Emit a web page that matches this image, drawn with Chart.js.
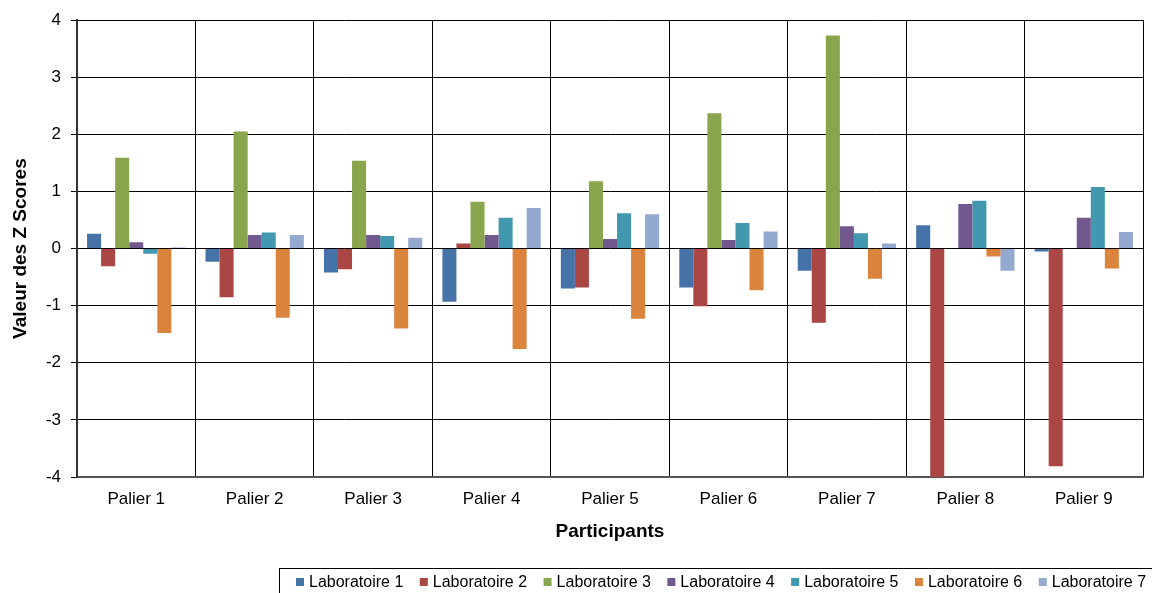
<!DOCTYPE html>
<html>
<head>
<meta charset="utf-8">
<title>Z Scores</title>
<script src="https://cdn.jsdelivr.net/npm/chart.js@4/dist/chart.umd.min.js"></script>
<style>
  html, body { margin: 0; padding: 0; background: #fff; }
  #zone { width: 1152px; height: 593px; }
</style>
</head>
<body>
<div id="zone"><canvas id="graphique" width="1152" height="593"></canvas></div>
<script>
const paliers = ['Palier 1', 'Palier 2', 'Palier 3', 'Palier 4', 'Palier 5', 'Palier 6', 'Palier 7', 'Palier 8', 'Palier 9'];
const laboratoires = ['Laboratoire 1', 'Laboratoire 2', 'Laboratoire 3', 'Laboratoire 4', 'Laboratoire 5', 'Laboratoire 6', 'Laboratoire 7'];
const couleurs = ['#4572a7', '#aa4643', '#89a54e', '#71588f', '#4198af', '#db843d', '#93a9cf'];

const labo1 = [0.26, -0.23, -0.42, -0.93, -0.70, -0.68, -0.39, 0.41, -0.05];
const labo2 = [-0.31, -0.85, -0.36, 0.09, -0.68, -1.01, -1.30, -4.03, -3.81];
const labo3 = [1.59, 2.05, 1.54, 0.82, 1.18, 2.37, 3.73, null, null];
const labo4 = [0.11, 0.24, 0.24, 0.24, 0.17, 0.15, 0.39, 0.78, 0.54];
const labo5 = [-0.09, 0.28, 0.22, 0.54, 0.62, 0.45, 0.27, 0.84, 1.08];
const labo6 = [-1.48, -1.21, -1.40, -1.76, -1.23, -0.73, -0.53, -0.14, -0.35];
const labo7 = [0.02, 0.24, 0.19, 0.71, 0.60, 0.30, 0.09, -0.39, 0.29];

const series = [labo1, labo2, labo3, labo4, labo5, labo6, labo7];
const ticksY = [-4, -3, -2, -1, 0, 1, 2, 3, 4];

const police = "'Liberation Sans', Arial, sans-serif";

// legende dans un cadre, en bas a droite
const legendeCadre = {
  id: 'legendeCadre',
  afterDraw(chart) {
    const ctx = chart.ctx;
    ctx.save();
    ctx.strokeStyle = '#000';
    ctx.lineWidth = 1;
    ctx.strokeRect(279.5, 568.5, 900, 60);
    ctx.font = '16px ' + police;
    ctx.textBaseline = 'middle';
    let x = 296;
    const y = 582;
    chart.data.datasets.forEach(ds => {
      ctx.fillStyle = ds.backgroundColor;
      ctx.fillRect(x, y - 4, 8, 8);
      ctx.fillStyle = '#000';
      ctx.fillText(ds.label, x + 13, y + 1);
      x += 13 + ctx.measureText(ds.label).width + 16.5;
    });
    ctx.restore();
  }
};

const ctx = document.getElementById('graphique').getContext('2d');
new Chart(ctx, {
  type: 'bar',
  data: {
    labels: paliers,
    datasets: series.map((valeurs, i) => ({
      label: laboratoires[i],
      data: valeurs,
      backgroundColor: couleurs[i],
      borderWidth: 0,
      categoryPercentage: 0.83,
      barPercentage: 1.0
    }))
  },
  options: {
    responsive: false,
    animation: false,
    devicePixelRatio: 1,
    layout: { padding: { top: 20, right: 9, bottom: 26, left: 0 } },
    plugins: {
      legend: { display: false },
      tooltip: { enabled: false }
    },
    scales: {
      x: {
        grid: { color: '#000', lineWidth: 1, drawTicks: false, offset: true },
        border: { display: true, color: '#555', width: 2 },
        ticks: { color: '#000', font: { family: police, size: 17 }, padding: 12 },
        title: {
          display: true,
          text: 'Participants',
          color: '#000',
          font: { family: police, size: 19, weight: 'bold' },
          padding: { top: 0, bottom: 24 }
        },
        afterFit(scale) { scale.height = 90; }
      },
      y: {
        min: -4,
        max: 4,
        afterBuildTicks(scale) { scale.ticks = ticksY.map(v => ({ value: v })); },
        grid: { color: '#000', lineWidth: 1, tickLength: 6 },
        border: { display: true, color: '#333', width: 2 },
        ticks: { color: '#000', font: { family: police, size: 17 }, padding: 10 },
        title: {
          display: true,
          text: 'Valeur des Z Scores',
          color: '#000',
          font: { family: police, size: 19, weight: 'bold' },
          padding: { top: 9, bottom: 0 }
        },
        afterFit(scale) { scale.width = 77; }
      }
    }
  },
  plugins: [legendeCadre]
});
</script>
</body>
</html>
